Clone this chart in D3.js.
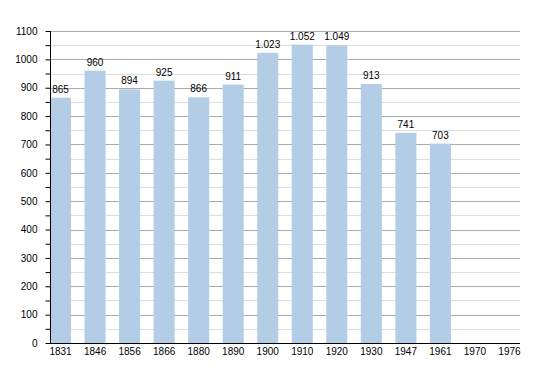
<!DOCTYPE html>
<html>
<head>
<meta charset="utf-8">
<script src="https://cdnjs.cloudflare.com/ajax/libs/d3/7.8.5/d3.min.js"></script>
<style>
  body { margin: 0; background: #fff; }
  text { font-family: "Liberation Sans", Arial, sans-serif; font-size: 10px; fill: #000; }
</style>
</head>
<body>
<script>
/* chart data */
var years = ["1831", "1846", "1856", "1866", "1880", "1890", "1900", "1910", "1920", "1930", "1947", "1961", "1970", "1976"];
var population = [865, 960, 894, 925, 866, 911, 1023, 1052, 1049, 913, 741, 703, null, null];
var yTicks = [0, 100, 200, 300, 400, 500, 600, 700, 800, 900, 1000, 1100];

var width = 550, height = 373;
/* plot edges (don't use "top", it is window.top) */
var plotLeft = 50, plotRight = 520, plotTop = 31, plotBottom = 343;

var svg = d3.select("body").append("svg")
    .attr("width", width)
    .attr("height", height);

var x = d3.scaleBand()
    .domain(years)
    .range([plotLeft, plotRight])
    .paddingInner(0.39)
    .paddingOuter(0);

var y = d3.scaleLinear()
    .domain([0, 1100])
    .range([plotBottom, plotTop]);

var fmt = function(v) { return d3.format(",")(v).replace(/,/g, "."); };

/* grid lines, minor every 50 and major every 100 */
var minor = d3.range(50, 1100, 100);
svg.selectAll(".minor").data(minor).enter().append("line")
    .attr("x1", plotLeft).attr("x2", plotRight)
    .attr("y1", function(d) { return Math.round(y(d)) + 0.5; })
    .attr("y2", function(d) { return Math.round(y(d)) + 0.5; })
    .attr("stroke", "#dddddd");

svg.selectAll(".major").data(yTicks.slice(1)).enter().append("line")
    .attr("x1", plotLeft).attr("x2", plotRight)
    .attr("y1", function(d) { return Math.round(y(d)) + 0.5; })
    .attr("y2", function(d) { return Math.round(y(d)) + 0.5; })
    .attr("stroke", "#aaaaaa");

/* bars */
var rows = years.map(function(d, i) { return { year: d, value: population[i] }; })
    .filter(function(d) { return d.value != null; });

svg.selectAll("rect").data(rows).enter().append("rect")
    .attr("x", function(d) { return x(d.year); })
    .attr("width", x.bandwidth())
    .attr("y", function(d) { return y(d.value); })
    .attr("height", function(d) { return plotBottom - y(d.value); })
    .attr("fill", "#b3cde6");

/* value labels */
svg.selectAll(".val").data(rows).enter().append("text")
    .attr("x", function(d) { return x(d.year) + x.bandwidth() / 2; })
    .attr("y", function(d) { return y(d.value) - 5; })
    .attr("text-anchor", "middle")
    .text(function(d) { return fmt(d.value); });

/* y axis */
var yAxis = d3.axisLeft(y)
    .tickValues(d3.range(0, 1150, 50))
    .tickSize(5)
    .tickPadding(8)
    .tickFormat(function(d) { return d % 100 == 0 ? d : ""; });

var gy = svg.append("g")
    .attr("transform", "translate(" + (plotLeft + 0.5) + ",0)")
    .call(yAxis);
gy.select(".domain").remove();
gy.selectAll("text").style("font-size", "10px").style("font-family", "Liberation Sans, Arial, sans-serif");

svg.append("line")
    .attr("x1", plotLeft + 0.5).attr("x2", plotLeft + 0.5)
    .attr("y1", plotTop).attr("y2", plotBottom)
    .attr("stroke", "#000");

/* x axis */
var xAxis = d3.axisBottom(x).tickSize(0).tickPadding(5);
var gx = svg.append("g")
    .attr("transform", "translate(0," + plotBottom + ")")
    .call(xAxis);
gx.select(".domain").remove();
gx.selectAll("text").style("font-size", "10px").style("font-family", "Liberation Sans, Arial, sans-serif");

svg.append("line")
    .attr("x1", plotLeft).attr("x2", plotRight)
    .attr("y1", plotBottom + 0.5).attr("y2", plotBottom + 0.5)
    .attr("stroke", "#000");
</script>
</body>
</html>
